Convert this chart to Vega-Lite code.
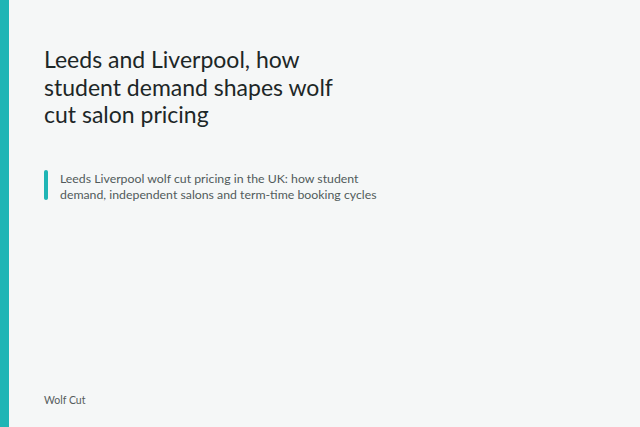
{
  "$schema": "https://vega.github.io/schema/vega-lite/v6.json",
  "width": 640,
  "height": 427,
  "autosize": {"type": "fit", "contains": "padding"},
  "padding": 0,
  "background": "#f5f7f7",
  "config": {"view": {"stroke": null}, "font": "Lato"},
  "data": {
    "values": [
      {"role": "edge", "x": 0, "x2": 9, "y": 0, "y2": 427},
      {"role": "accent", "x": 44, "x2": 48, "y": 170, "y2": 200},
      {"role": "title", "x": 44, "y": 68, "label": "Leeds and Liverpool, how"},
      {"role": "title", "x": 44, "y": 96, "label": "student demand shapes wolf"},
      {"role": "title", "x": 44, "y": 123, "label": "cut salon pricing"},
      {"role": "sub", "x": 60, "y": 183, "label": "Leeds Liverpool wolf cut pricing in the UK: how student"},
      {"role": "sub", "x": 60, "y": 199, "label": "demand, independent salons and term-time booking cycles"},
      {"role": "foot", "x": 44, "y": 404, "label": "Wolf Cut"}
    ]
  },
  "encoding": {
    "x": {"field": "x", "type": "quantitative", "scale": {"domain": [0, 640], "nice": false, "zero": false}, "axis": null},
    "y": {"field": "y", "type": "quantitative", "scale": {"domain": [0, 427], "nice": false, "zero": false, "reverse": true}, "axis": null}
  },
  "layer": [
    {
      "transform": [{"filter": "datum.role == 'edge'"}],
      "mark": {"type": "rect", "color": "#1fb5b5"},
      "encoding": {"x2": {"field": "x2"}, "y2": {"field": "y2"}}
    },
    {
      "transform": [{"filter": "datum.role == 'accent'"}],
      "mark": {"type": "rect", "color": "#1fb5b5", "cornerRadius": 2},
      "encoding": {"x2": {"field": "x2"}, "y2": {"field": "y2"}}
    },
    {
      "transform": [{"filter": "datum.role == 'title'"}],
      "mark": {"type": "text", "align": "left", "baseline": "alphabetic", "fontSize": 23, "color": "#1d2727"},
      "encoding": {"text": {"field": "label"}}
    },
    {
      "transform": [{"filter": "datum.role == 'sub'"}],
      "mark": {"type": "text", "align": "left", "baseline": "alphabetic", "fontSize": 12.3, "color": "#515b5b"},
      "encoding": {"text": {"field": "label"}}
    },
    {
      "transform": [{"filter": "datum.role == 'foot'"}],
      "mark": {"type": "text", "align": "left", "baseline": "alphabetic", "fontSize": 10.5, "color": "#555c5c"},
      "encoding": {"text": {"field": "label"}}
    }
  ]
}
